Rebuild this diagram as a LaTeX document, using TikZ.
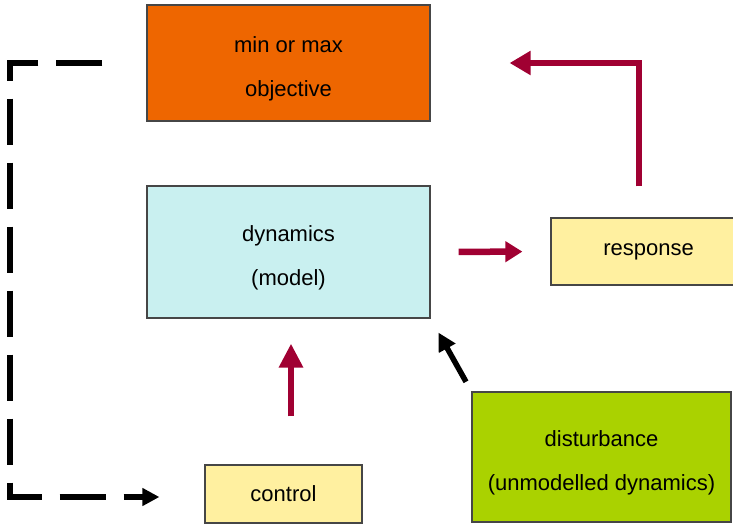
\documentclass[tikz,border=0pt]{standalone}
\usepackage{fontspec}
\setmainfont{Liberation Sans}
\usetikzlibrary{arrows.meta}
\definecolor{objorange}{RGB}{238,102,0}
\definecolor{dyncyan}{RGB}{201,240,240}
\definecolor{boxyellow}{RGB}{255,240,160}
\definecolor{distgreen}{RGB}{170,210,0}
\definecolor{arrowred}{RGB}{160,0,50}
\definecolor{edgegray}{RGB}{70,70,70}
\newcommand{\topgap}{\rule{0pt}{27pt}}

\begin{document}
\begin{tikzpicture}[line join=miter,x=1pt,y=1pt,
	box/.style={draw=edgegray,line width=1.2pt,inner sep=0pt,align=center,font=\fontsize{22}{44}\selectfont},
	redarrow/.style={draw=arrowred,line width=6.5pt,-{Triangle[length=21pt,width=23pt]}},
	blackarrow/.style={draw=black,line width=5.5pt,-{Triangle[length=18pt,width=18pt]}},
	dasharrow/.style={draw=black,line width=5.5pt,dash pattern=on 46pt off 18pt,-{Triangle[length=17pt,width=17pt]}}]
			\clip (0,0) rectangle (733,525);
			% boxes
			\node[box,fill=objorange,minimum width=283pt,minimum height=116pt] (obj) at (288.5,462) {\topgap min or max\\objective};
			\node[box,fill=dyncyan,minimum width=283pt,minimum height=132pt] (dyn) at (288.5,273) {\topgap dynamics\\(model)};
			\node[box,fill=boxyellow,minimum width=195pt,minimum height=67pt] (resp) at (648.5,273.5) {response};
			\node[box,fill=boxyellow,minimum width=157pt,minimum height=58pt] (ctrl) at (283.5,31) {control};
			\node[box,fill=distgreen,minimum width=259pt,minimum height=130pt] (dist) at (601.5,68) {\topgap disturbance\\(unmodelled dynamics)};
			% arrows
			\coordinate (lc) at (10,28);
			\draw[dasharrow,shorten <=44pt,shorten >=45pt] (obj.west) -| (lc) -- ([yshift=-3pt]ctrl.west);
			\draw[redarrow,shorten <=31pt,shorten >=79pt] ([xshift=-9.5pt]resp.north) |- (obj.east);
			\draw[redarrow,-{Triangle[length=17pt,width=20pt]},shorten <=28pt,shorten >=28pt] (dyn.east) -- (resp.west);
			\draw[redarrow,-{Triangle[length=24pt,width=23pt]},shorten <=48pt,shorten >=25pt] ([xshift=7.5pt]ctrl.north) -- ([xshift=2.5pt]dyn.south);
			\draw[blackarrow,shorten <=11pt,shorten >=16pt] (dist.north west) -- (dyn.south east);
		\end{tikzpicture}
\end{document}
